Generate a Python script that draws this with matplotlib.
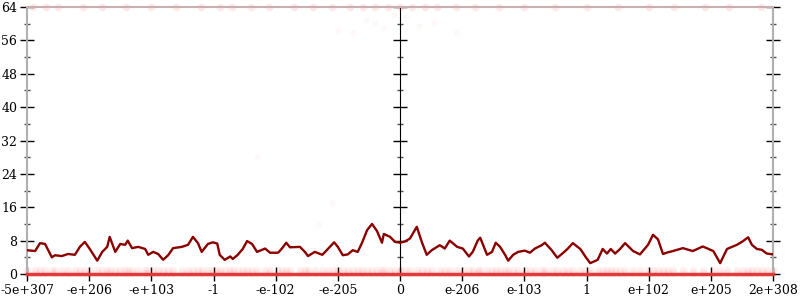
import matplotlib
matplotlib.use("Agg")
from matplotlib import pyplot as plt
import numpy as np

# x positions are in tick slots (0 .. 12), one slot per label
tick_labels = ["-5e+307", "-e+206", "-e+103", "-1", "-e-102", "-e-205", "0",
               "e-206", "e-103", "1", "e+102", "e+205", "2e+308"]

line_pos = [0, 0.13, 0.21, 0.29, 0.40, 0.45, 0.56, 0.66, 0.77, 0.85, 0.93, 1.01,
            1.13, 1.21, 1.29, 1.33, 1.42, 1.50, 1.58, 1.62, 1.69, 1.79, 1.90, 1.95,
            2.03, 2.11, 2.19, 2.27, 2.35, 2.49, 2.59, 2.67, 2.75, 2.81, 2.91, 2.99,
            3.06, 3.10, 3.18, 3.27, 3.31, 3.39, 3.47, 3.54, 3.62, 3.70, 3.83, 3.91,
            4.04, 4.10, 4.17, 4.23, 4.39, 4.47, 4.52, 4.63, 4.75, 4.84, 4.94, 5.00,
            5.08, 5.16, 5.24, 5.32, 5.39, 5.47, 5.55, 5.63, 5.71, 5.74, 5.84, 5.92,
            6.00, 6.08, 6.16, 6.27, 6.35, 6.43, 6.51, 6.64, 6.72, 6.80, 6.92, 7.01,
            7.11, 7.17, 7.25, 7.29, 7.40, 7.48, 7.54, 7.61, 7.69, 7.74, 7.82, 7.90,
            8.01, 8.09, 8.17, 8.28, 8.33, 8.44, 8.53, 8.62, 8.70, 8.78, 8.90, 8.99,
            9.06, 9.18, 9.26, 9.33, 9.39, 9.46, 9.54, 9.62, 9.75, 9.86, 9.99, 10.07,
            10.15, 10.23, 10.31, 10.39, 10.55, 10.71, 10.87, 11.04, 11.15, 11.26,
            11.42, 11.51, 11.60, 11.66, 11.74, 11.82, 11.90, 12.00]

line_val = [5.7, 5.5, 7.4, 7.2, 4.0, 4.5, 4.3, 4.8, 4.6, 6.5, 7.7, 6.0,
            3.2, 5.3, 6.5, 8.9, 5.3, 7.2, 7.0, 8.0, 6.2, 6.5, 6.0, 4.6,
            5.3, 4.8, 3.4, 4.5, 6.2, 6.5, 7.0, 8.9, 7.4, 5.3, 7.2, 7.6,
            7.3, 4.6, 3.4, 4.2, 3.6, 4.6, 6.0, 7.9, 7.2, 5.3, 6.1, 5.1,
            5.1, 6.1, 7.5, 6.4, 6.5, 5.3, 4.3, 5.3, 4.6, 6.0, 7.6, 6.5,
            4.5, 4.7, 5.7, 5.3, 7.5, 10.5, 12.0, 10.3, 7.5, 9.6, 8.9, 7.7,
            7.5, 7.8, 8.5, 11.3, 7.7, 4.6, 5.7, 6.9, 6.1, 8.0, 6.5, 6.1,
            4.2, 5.3, 8.0, 8.7, 4.6, 5.3, 7.5, 6.5, 4.6, 3.2, 4.6, 5.3,
            5.6, 5.1, 6.1, 6.9, 7.5, 5.7, 3.9, 5.0, 6.1, 7.4, 6.0, 4.0,
            2.6, 3.4, 6.0, 4.9, 6.0, 4.9, 6.0, 7.4, 5.5, 4.7, 7.0, 9.4,
            8.3, 4.8, 5.2, 5.5, 6.2, 5.5, 6.6, 5.5, 2.6, 6.0,
            7.0, 7.8, 8.8, 7.0, 6.0, 5.8, 4.9, 4.7]

# faint scattered samples near the top
top_pos = [0.1, 0.3, 0.5, 0.9, 1.2, 1.6, 2.0, 2.4, 2.8, 3.1, 3.3, 3.6, 3.9, 4.3,
           4.6, 4.9, 5.2, 5.4, 5.6, 5.8, 6.0, 6.2, 6.4, 6.6, 6.9, 7.2, 7.6, 8.0,
           8.5, 9.0, 9.5, 10.0, 10.4, 10.9, 11.3, 11.8]
top_val = [64, 64, 64, 64, 64, 64, 64, 64, 64, 64, 64, 64, 64, 64,
           64, 64, 64, 64, 64, 64, 64, 64, 64, 64, 64, 64, 64, 64,
           64, 64, 64, 64, 64, 64, 64, 64]
stray_pos = [5.0, 5.25, 5.45, 5.6, 5.75, 5.9, 6.1, 6.3, 6.55, 6.9, 4.7, 4.9, 6.05, 3.7]
stray_val = [58.5, 57.8, 61.0, 60.2, 59.0, 62.0, 61.5, 59.5, 60.5, 58.0, 12.0, 17.0, 15.0, 28.0]

fig = plt.figure(figsize=(8, 3), dpi=100)
ax = fig.add_axes([27 / 800, 1 - 274 / 300, 746 / 800, 267 / 300])

ax.scatter(line_pos, [0.9] * len(line_pos), s=30, color="#ff4040", alpha=0.07,
           linewidths=0, clip_on=False, zorder=2)
ax.scatter(line_pos, [0.3] * len(line_pos), s=30, color="#ff4040", alpha=0.07,
           linewidths=0, clip_on=False, zorder=2)
ax.scatter(top_pos, top_val, s=30, color="#ff5050", alpha=0.12,
           linewidths=0, clip_on=False, zorder=2)
ax.scatter(stray_pos, stray_val, s=20, color="#ff5050", alpha=0.035,
           linewidths=0, zorder=2)
ax.plot(line_pos, line_val, color="#8b0000", lw=1.7, zorder=3)

ax.set_xlim(0, 12)
ax.set_ylim(0, 64)
ax.set_xticks(range(len(tick_labels)))
ax.set_xticklabels(tick_labels)
ax.set_yticks(range(0, 65, 8))
ax.set_yticks(range(4, 64, 8), minor=True)

for s in ax.spines.values():
    s.set_color("#b0b0b0")
    s.set_linewidth(1.5)
ax.spines["bottom"].set_color("#e03a3a")
ax.spines["bottom"].set_linewidth(2.5)
ax.spines["top"].set_color("#c8b0b0")

ax.tick_params(axis="both", which="major", direction="inout", length=10,
               width=1, color="black", labelsize=9, pad=2)
ax.tick_params(axis="y", which="minor", direction="inout", length=5,
               width=1, color="#505050")
ax.tick_params(axis="y", right=True, which="both")

mid = ax.secondary_yaxis(0.5)
mid.set_yticks(range(0, 65, 8))
mid.set_yticks(range(4, 64, 8), minor=True)
mid.set_yticklabels([])
mid.spines["left"].set_color("#b0b0b0")
mid.spines["left"].set_linewidth(1.5)
mid.tick_params(which="major", direction="inout", length=10, width=1, color="black")
mid.tick_params(which="minor", direction="inout", length=5, width=1, color="#505050")

for lab in ax.get_xticklabels() + ax.get_yticklabels():
    lab.set_family("DejaVu Serif")

fig.savefig("out.png", dpi=100)
